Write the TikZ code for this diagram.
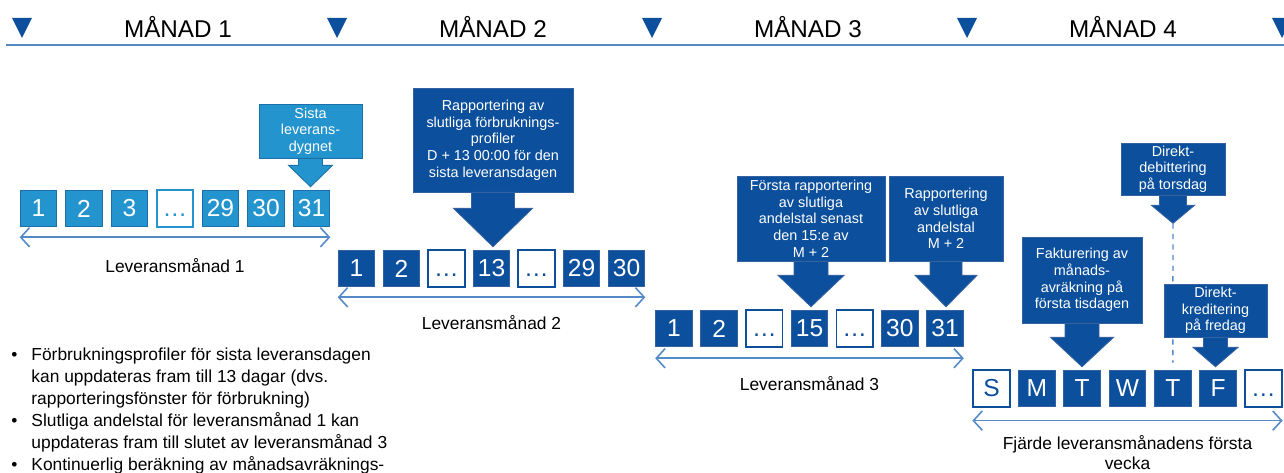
\documentclass[tikz,border=0pt]{standalone}
\usepackage{fontspec}
\setmainfont{Liberation Sans}
\usepackage{tikz}
\usetikzlibrary{calc, arrows.meta}

\definecolor{dkblue}{RGB}{12,79,156}
\definecolor{dkedge}{RGB}{52,98,160}
\definecolor{ltblue}{RGB}{36,148,206}
\definecolor{ltedge}{RGB}{28,112,168}
\definecolor{lineblue}{RGB}{84,138,200}

\tikzset{
  dday/.style={draw=dkedge, fill=dkblue, text=white, minimum size=0.73cm, inner sep=0pt, line width=0.6pt, font=\fontsize{14}{14}\selectfont},
  lday/.style={dday, draw=ltedge, fill=ltblue},
  dgap/.style={dday, fill=white, draw=dkblue, text=dkblue, line width=1pt, execute at begin node=\vphantom{1}},
  lgap/.style={dgap, draw=ltblue, text=ltblue},
  month/.style={font=\fontsize{13.8}{14}\selectfont},
  callout/.style={fill=dkblue, draw=dkedge, text=white, align=center, inner sep=0pt, font=\fontsize{8.2}{9.5}\selectfont},
  lcallout/.style={callout, fill=ltblue, draw=ltedge},
  dpoint/.style={fill=dkblue, draw=dkedge, line width=0.5pt},
  lpoint/.style={dpoint, fill=ltblue, draw=ltedge},
  span/.style={draw=lineblue, line width=0.9pt, {Straight Barb[length=5pt,width=11pt]}-{Straight Barb[length=5pt,width=11pt]}},
  spanlabel/.style={font=\fontsize{9.9}{11.2}\selectfont, align=center}
}

% fat arrow from a callout box down to its target
\newcommand{\pointer}[6]{%
  \path[#1] ($(#2.south)+(-#4,0)$) -- ($(#2.south)+(-#4,#6)$) -- ($(#2.south)+(-#5,#6)$)
    -- ($(#2.south |- #3)+(0,-3)$) -- ($(#2.south)+(#5,#6)$) -- ($(#2.south)+(#4,#6)$)
    -- ($(#2.south)+(#4,0)$) -- cycle;}

\begin{document}
\begin{tikzpicture}[x=0.02cm, y=-0.02cm]
    \useasboundingbox (0,0) rectangle (1284,473);

    % Month header
    \foreach \k in {0,...,4}
        \fill[dkblue] ({12+315*\k},18) -- ++(20,0) -- ({22+315*\k},38) -- cycle;
    \foreach \k in {1,...,4}
        \node[month] (m\k) at ({178+315*(\k-1)},27) {MÅNAD \k};
    \draw[lineblue, line width=1.2pt] (6,45) -- (1284,45);

    % Delivery month 1
    \foreach \d/\s [count=\i] in {1/lday, 2/lday, 3/lday, \dots/lgap, 29/lday, 30/lday, 31/lday}
        \node[\s] (a\i) at ({38.5+45.5*(\i-1)},208.5) {\d};
    \draw[span] ([yshift=-0.2cm]a1.south west) -- ([yshift=-0.2cm]a7.south east)
        node[midway, spanlabel, yshift=-0.56cm] (lab1) {Leveransmånad 1};
    \node[lcallout, minimum width=2.06cm, minimum height=1.08cm] (last) at (310.5,131) {Sista\\leverans-\\dygnet};
    \pointer{lpoint}{last}{a7.north}{12}{22}{7}

    % Delivery month 2
    \foreach \d/\s [count=\i] in {1/dday, 2/dday, \dots/dgap, 13/dday, \dots/dgap, 29/dday, 30/dday}
        \node[\s] (b\i) at ({356.5+45*(\i-1)},268.5) {\d};
    \draw[span] ([yshift=-0.2cm]b1.south west) -- ([yshift=-0.2cm]b7.south east)
        node[midway, spanlabel, yshift=-0.5cm] (lab2) {Leveransmånad 2};
    \node[callout, minimum width=3.2cm, minimum height=2.08cm] (rep) at (493,140)
        {Rapportering av\\slutliga förbruknings-\\profiler\\D + 13 00:00 för den\\sista leveransdagen};
    \pointer{dpoint}{rep}{b4.north}{21.5}{39.5}{16}

    % Delivery month 3
    \foreach \d/\s [count=\i] in {1/dday, 2/dday, \dots/dgap, 15/dday, \dots/dgap, 30/dday, 31/dday}
        \node[\s] (c\i) at ({674+45.17*(\i-1)},328.5) {\d};
    \draw[span] ([yshift=-0.22cm]c1.south west) -- ([yshift=-0.22cm]c7.south east)
        node[midway, spanlabel, yshift=-0.5cm] (lab3) {Leveransmånad 3};
    \node[callout, minimum width=2.96cm, minimum height=1.7cm] (first) at (811,218.5)
        {Första rapportering\\av slutliga\\andelstal senast\\den 15:e av\\M + 2};
    \pointer{dpoint}{first}{c4.north}{17}{33}{14}
    \node[callout, minimum width=2.28cm, minimum height=1.7cm] (final) at (946,218.5)
        {Rapportering\\av slutliga\\andelstal\\M + 2};
    \pointer{dpoint}{final}{c7.north}{16}{31}{14}

    % First week of month 4
    \foreach \d/\s [count=\i] in {S/dgap, M/dday, T/dday, W/dday, T/dday, F/dday, \dots/dgap}
        \node[\s] (d\i) at ({991.5+45.33*(\i-1)},388.5) {\d};
    \draw[span] ([yshift=-0.26cm]d1.south west) -- ([yshift=-0.26cm]d7.south east)
        node[midway, spanlabel, yshift=-0.64cm] (lab4) {Fjärde leveransmånadens första\\vecka};
    \node[callout, minimum width=2.08cm, minimum height=1.04cm] (debit) at (1173,169)
        {Direkt-\\debittering\\på torsdag};
    \coordinate (debtip) at ($(debit.south)+(0,31)$);
    \pointer{dpoint}{debit}{debtip}{13.5}{21.5}{10}
    \draw[lineblue, dashed, line width=0.8pt] ($(debtip)+(0,-3)$) -- ($(d5.north)+(0,-7)$);
    \node[callout, minimum width=2.06cm, minimum height=1.06cm] (credit) at (1215.5,310.5)
        {Direkt-\\kreditering\\på fredag};
    \pointer{dpoint}{credit}{d6.north}{12}{22.5}{10}
    \node[callout, minimum width=2.4cm, minimum height=1.72cm] (inv) at (1082,280)
        {Fakturering av\\månads-\\avräkning på\\första tisdagen};
    \pointer{dpoint}{inv}{d3.north}{17}{31.5}{14}

    % Notes
    \node[anchor=north west, inner sep=0pt, font=\fontsize{9.9}{12.5}\selectfont] (notes) at (11,345) {%
        \begin{tabular}{@{}l@{\hspace{0.28cm}}l@{}}
        \textbullet & Förbrukningsprofiler för sista leveransdagen\\
         & kan uppdateras fram till 13 dagar (dvs.\\
         & rapporteringsfönster för förbrukning)\\
        \textbullet & Slutliga andelstal för leveransmånad 1 kan\\
         & uppdateras fram till slutet av leveransmånad 3\\
        \textbullet & Kontinuerlig beräkning av månadsavräknings-
        \end{tabular}};

\end{tikzpicture}
\end{document}
